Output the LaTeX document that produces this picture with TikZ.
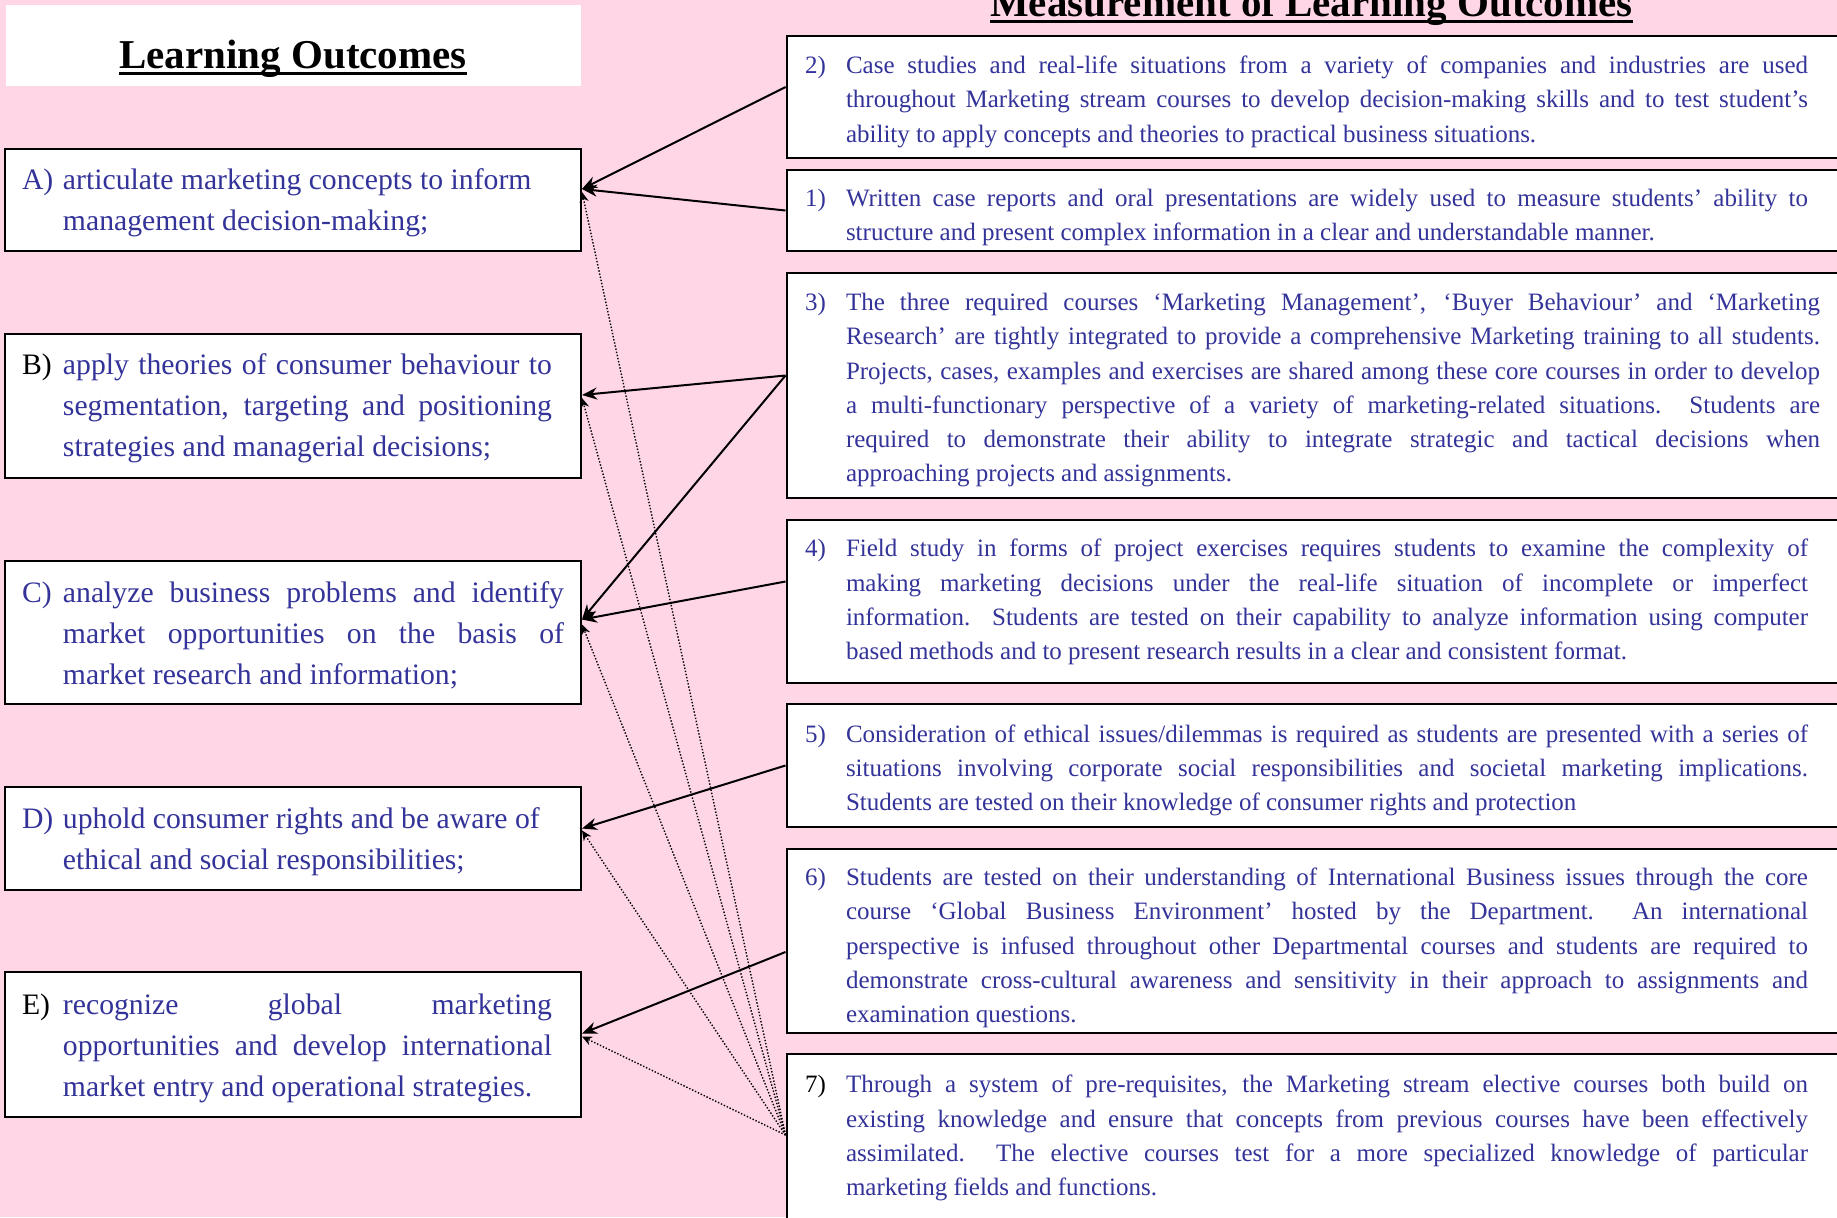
\documentclass[tikz,border=0pt]{standalone}
\usepackage{fontspec}
\setmainfont{Liberation Serif}
\usetikzlibrary{arrows.meta}
\definecolor{pinkbg}{RGB}{255,214,230}
\definecolor{textblue}{RGB}{51,51,153}
% item label in a fixed-width slot
\newcommand{\lab}[2][textblue]{\makebox[20.5pt][l]{\textcolor{#1}{#2}}}
% heading with a heavy underline
\newcommand{\ultitle}[1]{\setbox0=\hbox{#1}\rlap{\rule[-3.3pt]{\wd0}{1.4pt}}\box0}
% hanging paragraph: [top pad] width, right margin, text
\newcommand{\itemtext}[4][4.7pt]{\parbox{#2}{\vspace*{#1}\hangindent=20.5pt\hangafter=1\rightskip=#3\relax #4}}

\begin{document}
\begin{tikzpicture}[x=0.5pt, y=-0.5pt,
  lobox/.style={draw=black, line width=1pt, fill=white, text=textblue,
                inner xsep=8.5pt, inner ysep=0pt,
                font=\fontsize{14.85}{20.5}\selectfont},
  mbox/.style={draw=black, line width=1pt, fill=white, text=textblue,
               inner xsep=9.25pt, inner ysep=0pt,
               font=\fontsize{12.5}{17.1}\selectfont},
  heading/.style={anchor=base, inner sep=0pt,
                  font=\bfseries\fontsize{20.5}{24}\selectfont},
  arr/.style={-{Stealth[length=7.5pt,width=6pt]}, line width=1pt},
  dotarr/.style={-{Stealth[length=5pt,width=4.5pt]}, line width=0.7pt,
                 dash pattern=on 0.7pt off 0.9pt}
]
\fill[pinkbg] (0,0) rectangle (1837,1217);
\useasboundingbox (0,0) rectangle (1837,1217);

% headings
\node[fill=white, inner sep=0pt, minimum width=287.5pt, minimum height=40.5pt]
     (lohead) at (293.5,45.5) {};
\node[heading] (lotitle) at (293,68.5) {\ultitle{Learning Outcomes}};
\node[heading] (mtitle) at (1311.5,16) {\ultitle{Measurement of Learning Outcomes}};

% learning outcomes
\node[lobox, minimum height=51pt] (A) at (293,200)
  {\itemtext[2.4pt]{271pt}{0pt}{\lab{A)}articulate marketing concepts to inform\newline management decision-making;}};
\node[lobox, minimum height=72pt] (B) at (293,406)
  {\itemtext[2.7pt]{271pt}{6pt}{\lab[black]{B)}apply theories of consumer behaviour to\linebreak
   segmentation, targeting and positioning\linebreak strategies and managerial decisions;}};
\node[lobox, minimum height=71.5pt] (C) at (293,632.5)
  {\itemtext[2.4pt]{271pt}{0pt}{\lab{C)}analyze business problems and identify\linebreak
   market opportunities on the basis of\linebreak market research and information;}};
\node[lobox, minimum height=51.5pt] (D) at (293,838.5)
  {\itemtext[3pt]{271pt}{0pt}{\lab{D)}uphold consumer rights and be aware of\newline ethical and social responsibilities;}};
\node[lobox, minimum height=72.5pt] (E) at (293,1044.5)
  {\itemtext[3.5pt]{271pt}{6pt}{\lab[black]{E)}recognize global marketing\linebreak
   opportunities and develop international\linebreak market entry and operational strategies.}};

% measurement
\node[mbox, minimum height=61pt] (m2) at (1318.25,97)
  {\itemtext{513.25pt}{11.75pt}{\lab{2)}Case studies and real-life situations from a variety of companies and industries are used\linebreak
   throughout Marketing stream courses to develop decision-making skills and to test student's\linebreak
   ability to apply concepts and theories to practical business situations.}};
\node[mbox, minimum height=40.5pt] (m1) at (1318.25,210.5)
  {\itemtext[7pt]{513.25pt}{11.75pt}{\lab{1)}Written case reports and oral presentations are widely used to measure students' ability to\linebreak
   structure and present complex information in a clear and understandable manner.}};
\node[mbox, minimum height=112.5pt] (m3) at (1318.25,385.5)
  {\itemtext{513.25pt}{5.75pt}{\lab{3)}The three required courses `Marketing Management', `Buyer Behaviour' and `Marketing\linebreak
   Research' are tightly integrated to provide a comprehensive Marketing training to all students.\linebreak
   Projects, cases, examples and exercises are shared among these core courses in order to develop\linebreak
   a multi-functionary perspective of a variety of marketing-related situations.\ \ Students are\linebreak
   required to demonstrate their ability to integrate strategic and tactical decisions when\linebreak
   approaching projects and assignments.}};
\node[mbox, minimum height=81.5pt] (m4) at (1318.25,601.5)
  {\itemtext[0.5pt]{513.25pt}{11.75pt}{\lab{4)}Field study in forms of project exercises requires students to examine the complexity of\linebreak
   making marketing decisions under the real-life situation of incomplete or imperfect\linebreak
   information.\ \ Students are tested on their capability to analyze information using computer\linebreak
   based methods and to present research results in a clear and consistent format.}};
\node[mbox, minimum height=61.5pt] (m5) at (1318.25,765.5)
  {\itemtext{513.25pt}{11.75pt}{\lab{5)}Consideration of ethical issues/dilemmas is required as students are presented with a series of\linebreak
   situations involving corporate social responsibilities and societal marketing implications.\linebreak
   Students are tested on their knowledge of consumer rights and protection}};
\node[mbox, minimum height=92pt] (m6) at (1318.25,941)
  {\itemtext[7pt]{513.25pt}{11.75pt}{\lab{6)}Students are tested on their understanding of International Business issues through the core\linebreak
   course `Global Business Environment' hosted by the Department.\ \ An international\linebreak
   perspective is infused throughout other Departmental courses and students are required to\linebreak
   demonstrate cross-cultural awareness and sensitivity in their approach to assignments and\linebreak
   examination questions.}};
\node[mbox, minimum height=84pt] (m7) at (1318.25,1138)
  {\itemtext[0pt]{513.25pt}{11.75pt}{\lab[black]{7)}Through a system of pre-requisites, the Marketing stream elective courses both build on\linebreak
   existing knowledge and ensure that concepts from previous courses have been effectively\linebreak
   assimilated.\ \ The elective courses test for a more specialized knowledge of particular\linebreak
   marketing fields and functions.}};

% links
\draw[arr] ([yshift=5pt]m2.west) -- ([yshift=5.5pt]A.east);
\draw[arr] (m1.west) -- ([yshift=5.5pt]A.east);
\draw[arr] ([yshift=5pt]m3.west) -- ([yshift=5.5pt]B.east);
\draw[arr] ([yshift=5pt]m3.west) -- ([yshift=6.5pt]C.east);
\draw[arr] ([yshift=10pt]m4.west) -- ([yshift=6.5pt]C.east);
\draw[arr] (m5.west) -- ([yshift=5pt]D.east);
\draw[arr] ([yshift=-5.5pt]m6.west) -- ([yshift=5.5pt]E.east);
\foreach \o in {A,B,C,D,E}
  \draw[dotarr] ([yshift=1.5pt]m7.west) -- ([yshift=4pt]\o.east);

\end{tikzpicture}
\end{document}
